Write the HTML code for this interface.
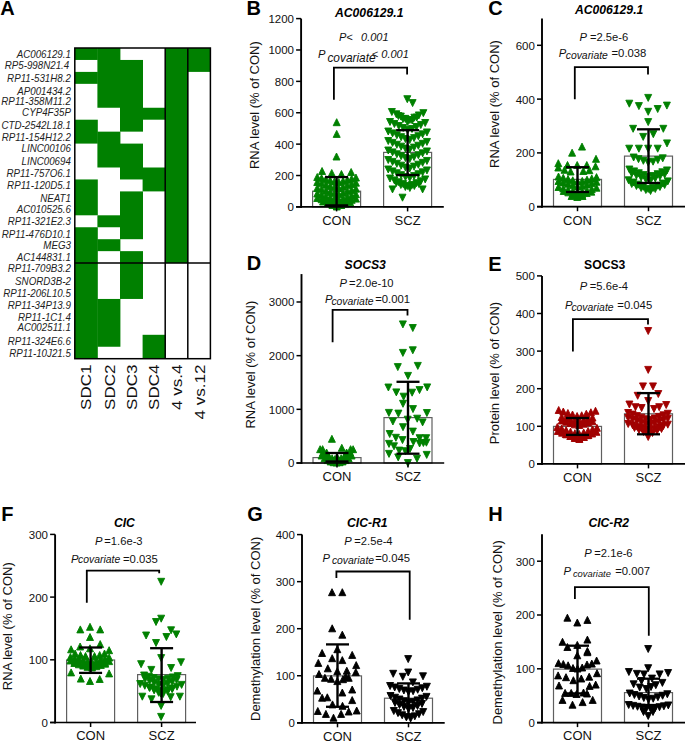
<!DOCTYPE html>
<html><head><meta charset="utf-8"><style>
html,body{margin:0;padding:0;background:#fff;}
svg{display:block;font-family:"Liberation Sans", sans-serif;}
</style></head><body>
<svg width="685" height="741" viewBox="0 0 685 741">
<rect x="74.80" y="48.00" width="23.00" height="11.95" fill="#008000"/>
<rect x="74.80" y="71.90" width="23.00" height="11.95" fill="#008000"/>
<rect x="74.80" y="119.70" width="23.00" height="23.90" fill="#008000"/>
<rect x="74.80" y="179.45" width="23.00" height="35.85" fill="#008000"/>
<rect x="74.80" y="227.25" width="23.00" height="131.45" fill="#008000"/>
<rect x="97.40" y="48.00" width="23.00" height="59.75" fill="#008000"/>
<rect x="97.40" y="131.65" width="23.00" height="35.85" fill="#008000"/>
<rect x="97.40" y="215.30" width="23.00" height="11.95" fill="#008000"/>
<rect x="97.40" y="239.20" width="23.00" height="11.95" fill="#008000"/>
<rect x="97.40" y="298.95" width="23.00" height="47.80" fill="#008000"/>
<rect x="120.00" y="59.95" width="23.00" height="71.70" fill="#008000"/>
<rect x="120.00" y="143.60" width="23.00" height="35.85" fill="#008000"/>
<rect x="120.00" y="191.40" width="23.00" height="47.80" fill="#008000"/>
<rect x="120.00" y="251.15" width="23.00" height="47.80" fill="#008000"/>
<rect x="142.60" y="107.75" width="23.00" height="11.95" fill="#008000"/>
<rect x="142.60" y="167.50" width="23.00" height="23.90" fill="#008000"/>
<rect x="142.60" y="334.80" width="23.00" height="23.90" fill="#008000"/>
<rect x="165.20" y="48.00" width="23.00" height="215.10" fill="#008000"/>
<rect x="187.80" y="48.00" width="23.00" height="23.90" fill="#008000"/>
<rect x="74.80" y="48.00" width="135.60" height="310.70" fill="none" stroke="#000" stroke-width="1.5"/>
<line x1="165.20" y1="48.0" x2="165.20" y2="358.70" stroke="#000" stroke-width="1.5"/>
<line x1="187.80" y1="48.0" x2="187.80" y2="358.70" stroke="#000" stroke-width="1.5"/>
<line x1="74.8" y1="263.10" x2="210.4" y2="263.10" stroke="#000" stroke-width="1.5"/>
<text transform="translate(70.9,57.8) scale(0.93,1)" text-anchor="end" font-size="10.5" font-style="italic" fill="#222">AC006129.1</text>
<text transform="translate(69.2,69.2) scale(0.93,1)" text-anchor="end" font-size="10.5" font-style="italic" fill="#222">RP5-998N21.4</text>
<text transform="translate(70.9,81.5) scale(0.93,1)" text-anchor="end" font-size="10.5" font-style="italic" fill="#222">RP11-531H8.2</text>
<text transform="translate(70.9,94.7) scale(0.93,1)" text-anchor="end" font-size="10.5" font-style="italic" fill="#222">AP001434.2</text>
<text transform="translate(70.9,104.8) scale(0.93,1)" text-anchor="end" font-size="10.5" font-style="italic" fill="#222">RP11-358M11.2</text>
<text transform="translate(70.9,116.0) scale(0.93,1)" text-anchor="end" font-size="10.5" font-style="italic" fill="#222">CYP4F35P</text>
<text transform="translate(70.9,128.7) scale(0.93,1)" text-anchor="end" font-size="10.5" font-style="italic" fill="#222">CTD-2542L18.1</text>
<text transform="translate(70.9,141.3) scale(0.93,1)" text-anchor="end" font-size="10.5" font-style="italic" fill="#222">RP11-154H12.2</text>
<text transform="translate(70.9,152.3) scale(0.93,1)" text-anchor="end" font-size="10.5" font-style="italic" fill="#222">LINC00106</text>
<text transform="translate(70.9,164.7) scale(0.93,1)" text-anchor="end" font-size="10.5" font-style="italic" fill="#222">LINC00694</text>
<text transform="translate(70.9,177.2) scale(0.93,1)" text-anchor="end" font-size="10.5" font-style="italic" fill="#222">RP11-757O6.1</text>
<text transform="translate(70.9,189.3) scale(0.93,1)" text-anchor="end" font-size="10.5" font-style="italic" fill="#222">RP11-120D5.1</text>
<text transform="translate(70.9,201.6) scale(0.93,1)" text-anchor="end" font-size="10.5" font-style="italic" fill="#222">NEAT1</text>
<text transform="translate(70.9,212.5) scale(0.93,1)" text-anchor="end" font-size="10.5" font-style="italic" fill="#222">AC010525.6</text>
<text transform="translate(70.9,225.3) scale(0.93,1)" text-anchor="end" font-size="10.5" font-style="italic" fill="#222">RP11-321E2.3</text>
<text transform="translate(70.9,238.0) scale(0.93,1)" text-anchor="end" font-size="10.5" font-style="italic" fill="#222">RP11-476D10.1</text>
<text transform="translate(70.9,248.9) scale(0.93,1)" text-anchor="end" font-size="10.5" font-style="italic" fill="#222">MEG3</text>
<text transform="translate(70.9,260.7) scale(0.93,1)" text-anchor="end" font-size="10.5" font-style="italic" fill="#222">AC144831.1</text>
<text transform="translate(70.9,272.2) scale(0.93,1)" text-anchor="end" font-size="10.5" font-style="italic" fill="#222">RP11-709B3.2</text>
<text transform="translate(70.9,284.5) scale(0.93,1)" text-anchor="end" font-size="10.5" font-style="italic" fill="#222">SNORD3B-2</text>
<text transform="translate(70.9,296.7) scale(0.93,1)" text-anchor="end" font-size="10.5" font-style="italic" fill="#222">RP11-206L10.5</text>
<text transform="translate(70.9,309.0) scale(0.93,1)" text-anchor="end" font-size="10.5" font-style="italic" fill="#222">RP11-34P13.9</text>
<text transform="translate(70.9,321.0) scale(0.93,1)" text-anchor="end" font-size="10.5" font-style="italic" fill="#222">RP11-1C1.4</text>
<text transform="translate(70.9,331.0) scale(0.93,1)" text-anchor="end" font-size="10.5" font-style="italic" fill="#222">AC002511.1</text>
<text transform="translate(70.9,344.7) scale(0.93,1)" text-anchor="end" font-size="10.5" font-style="italic" fill="#222">RP11-324E6.6</text>
<text transform="translate(70.9,357.3) scale(0.93,1)" text-anchor="end" font-size="10.5" font-style="italic" fill="#222">RP11-10J21.5</text>
<text transform="translate(90.60,364.6) rotate(-90) scale(1.19,1)" text-anchor="end" font-size="14.3" fill="#111">SDC1</text>
<text transform="translate(115.30,364.6) rotate(-90) scale(1.19,1)" text-anchor="end" font-size="14.3" fill="#111">SDC2</text>
<text transform="translate(137.10,364.6) rotate(-90) scale(1.19,1)" text-anchor="end" font-size="14.3" fill="#111">SDC3</text>
<text transform="translate(159.40,364.6) rotate(-90) scale(1.19,1)" text-anchor="end" font-size="14.3" fill="#111">SDC4</text>
<text transform="translate(181.70,364.6) rotate(-90) scale(1.19,1)" text-anchor="end" font-size="14.3" fill="#111">4 vs.4</text>
<text transform="translate(204.70,364.6) rotate(-90) scale(1.19,1)" text-anchor="end" font-size="14.3" fill="#111">4 vs.12</text>
<text x="0.3" y="14.7" font-size="20" font-weight="bold">A</text>
<rect x="312.60" y="191.20" width="48" height="15.70" fill="#fff" stroke="#606060" stroke-width="1.2"/>
<rect x="383.60" y="152.40" width="48" height="54.50" fill="#fff" stroke="#606060" stroke-width="1.2"/>
<g fill="#008000" stroke="#008000" stroke-width="0.9" stroke-linejoin="round">
<polygon points="336.70,118.70 340.20,125.70 333.20,125.70"/>
<polygon points="336.70,130.40 340.20,137.40 333.20,137.40"/>
<polygon points="336.50,153.00 340.00,160.00 333.00,160.00"/>
<polygon points="341.45,170.50 344.95,177.50 337.95,177.50"/>
<polygon points="331.75,169.50 335.25,176.50 328.25,176.50"/>
<polygon points="351.15,168.50 354.65,175.50 347.65,175.50"/>
<polygon points="322.05,167.50 325.55,174.50 318.55,174.50"/>
<polygon points="338.75,178.50 342.25,185.50 335.25,185.50"/>
<polygon points="334.45,177.94 337.95,184.94 330.95,184.94"/>
<polygon points="343.05,177.39 346.55,184.39 339.55,184.39"/>
<polygon points="330.15,176.83 333.65,183.83 326.65,183.83"/>
<polygon points="347.35,176.28 350.85,183.28 343.85,183.28"/>
<polygon points="325.85,175.72 329.35,182.72 322.35,182.72"/>
<polygon points="351.65,175.17 355.15,182.17 348.15,182.17"/>
<polygon points="321.55,174.61 325.05,181.61 318.05,181.61"/>
<polygon points="355.95,174.06 359.45,181.06 352.45,181.06"/>
<polygon points="317.25,173.50 320.75,180.50 313.75,180.50"/>
<polygon points="338.75,184.50 342.25,191.50 335.25,191.50"/>
<polygon points="334.45,183.83 337.95,190.83 330.95,190.83"/>
<polygon points="343.05,183.17 346.55,190.17 339.55,190.17"/>
<polygon points="330.15,182.50 333.65,189.50 326.65,189.50"/>
<polygon points="347.35,181.83 350.85,188.83 343.85,188.83"/>
<polygon points="325.85,181.17 329.35,188.17 322.35,188.17"/>
<polygon points="351.65,180.50 355.15,187.50 348.15,187.50"/>
<polygon points="321.55,179.83 325.05,186.83 318.05,186.83"/>
<polygon points="355.95,179.17 359.45,186.17 352.45,186.17"/>
<polygon points="317.25,178.50 320.75,185.50 313.75,185.50"/>
<polygon points="338.75,190.50 342.25,197.50 335.25,197.50"/>
<polygon points="334.45,189.83 337.95,196.83 330.95,196.83"/>
<polygon points="343.05,189.17 346.55,196.17 339.55,196.17"/>
<polygon points="330.15,188.50 333.65,195.50 326.65,195.50"/>
<polygon points="347.35,187.83 350.85,194.83 343.85,194.83"/>
<polygon points="325.85,187.17 329.35,194.17 322.35,194.17"/>
<polygon points="351.65,186.50 355.15,193.50 348.15,193.50"/>
<polygon points="321.55,185.83 325.05,192.83 318.05,192.83"/>
<polygon points="355.95,185.17 359.45,192.17 352.45,192.17"/>
<polygon points="317.25,184.50 320.75,191.50 313.75,191.50"/>
<polygon points="338.75,196.00 342.25,203.00 335.25,203.00"/>
<polygon points="334.45,195.33 337.95,202.33 330.95,202.33"/>
<polygon points="343.05,194.67 346.55,201.67 339.55,201.67"/>
<polygon points="330.15,194.00 333.65,201.00 326.65,201.00"/>
<polygon points="347.35,193.33 350.85,200.33 343.85,200.33"/>
<polygon points="325.85,192.67 329.35,199.67 322.35,199.67"/>
<polygon points="351.65,192.00 355.15,199.00 348.15,199.00"/>
<polygon points="321.55,191.33 325.05,198.33 318.05,198.33"/>
<polygon points="355.95,190.67 359.45,197.67 352.45,197.67"/>
<polygon points="317.25,190.00 320.75,197.00 313.75,197.00"/>
<polygon points="338.75,200.00 342.25,207.00 335.25,207.00"/>
<polygon points="334.45,199.39 337.95,206.39 330.95,206.39"/>
<polygon points="343.05,198.78 346.55,205.78 339.55,205.78"/>
<polygon points="330.15,198.17 333.65,205.17 326.65,205.17"/>
<polygon points="347.35,197.56 350.85,204.56 343.85,204.56"/>
<polygon points="325.85,196.94 329.35,203.94 322.35,203.94"/>
<polygon points="351.65,196.33 355.15,203.33 348.15,203.33"/>
<polygon points="321.55,195.72 325.05,202.72 318.05,202.72"/>
<polygon points="355.95,195.11 359.45,202.11 352.45,202.11"/>
<polygon points="317.25,194.50 320.75,201.50 313.75,201.50"/>
<polygon points="336.60,202.00 340.10,209.00 333.10,209.00"/>
<polygon points="341.10,201.33 344.60,208.33 337.60,208.33"/>
<polygon points="332.10,200.67 335.60,207.67 328.60,207.67"/>
<polygon points="345.60,200.00 349.10,207.00 342.10,207.00"/>
<polygon points="327.60,199.33 331.10,206.33 324.10,206.33"/>
<polygon points="350.10,198.67 353.60,205.67 346.60,205.67"/>
<polygon points="323.10,198.00 326.60,205.00 319.60,205.00"/>
<polygon points="336.80,203.00 340.30,210.00 333.30,210.00"/>
<polygon points="332.50,201.50 336.00,208.50 329.00,208.50"/>
<polygon points="341.00,201.50 344.50,208.50 337.50,208.50"/>
<polygon points="403.80,95.70 410.80,95.70 407.30,102.70"/>
<polygon points="409.10,99.60 416.10,99.60 412.60,106.60"/>
<polygon points="406.35,116.50 413.35,116.50 409.85,123.50"/>
<polygon points="401.85,115.36 408.85,115.36 405.35,122.36"/>
<polygon points="410.85,114.21 417.85,114.21 414.35,121.21"/>
<polygon points="397.35,113.07 404.35,113.07 400.85,120.07"/>
<polygon points="415.35,111.93 422.35,111.93 418.85,118.93"/>
<polygon points="392.85,110.79 399.85,110.79 396.35,117.79"/>
<polygon points="419.85,109.64 426.85,109.64 423.35,116.64"/>
<polygon points="388.35,108.50 395.35,108.50 391.85,115.50"/>
<polygon points="404.10,118.50 411.10,118.50 407.60,125.50"/>
<polygon points="408.70,117.00 415.70,117.00 412.20,124.00"/>
<polygon points="399.50,115.50 406.50,115.50 403.00,122.50"/>
<polygon points="413.30,114.00 420.30,114.00 416.80,121.00"/>
<polygon points="394.90,112.50 401.90,112.50 398.40,119.50"/>
<polygon points="404.10,126.50 411.10,126.50 407.60,133.50"/>
<polygon points="408.50,125.50 415.50,125.50 412.00,132.50"/>
<polygon points="399.70,124.50 406.70,124.50 403.20,131.50"/>
<polygon points="412.90,123.50 419.90,123.50 416.40,130.50"/>
<polygon points="395.30,122.50 402.30,122.50 398.80,129.50"/>
<polygon points="417.30,121.50 424.30,121.50 420.80,128.50"/>
<polygon points="390.90,120.50 397.90,120.50 394.40,127.50"/>
<polygon points="421.70,119.50 428.70,119.50 425.20,126.50"/>
<polygon points="386.50,118.50 393.50,118.50 390.00,125.50"/>
<polygon points="406.25,136.50 413.25,136.50 409.75,143.50"/>
<polygon points="401.95,135.56 408.95,135.56 405.45,142.56"/>
<polygon points="410.55,134.61 417.55,134.61 414.05,141.61"/>
<polygon points="397.65,133.67 404.65,133.67 401.15,140.67"/>
<polygon points="414.85,132.72 421.85,132.72 418.35,139.72"/>
<polygon points="393.35,131.78 400.35,131.78 396.85,138.78"/>
<polygon points="419.15,130.83 426.15,130.83 422.65,137.83"/>
<polygon points="389.05,129.89 396.05,129.89 392.55,136.89"/>
<polygon points="423.45,128.94 430.45,128.94 426.95,135.94"/>
<polygon points="384.75,128.00 391.75,128.00 388.25,135.00"/>
<polygon points="406.25,146.00 413.25,146.00 409.75,153.00"/>
<polygon points="401.95,145.06 408.95,145.06 405.45,152.06"/>
<polygon points="410.55,144.11 417.55,144.11 414.05,151.11"/>
<polygon points="397.65,143.17 404.65,143.17 401.15,150.17"/>
<polygon points="414.85,142.22 421.85,142.22 418.35,149.22"/>
<polygon points="393.35,141.28 400.35,141.28 396.85,148.28"/>
<polygon points="419.15,140.33 426.15,140.33 422.65,147.33"/>
<polygon points="389.05,139.39 396.05,139.39 392.55,146.39"/>
<polygon points="423.45,138.44 430.45,138.44 426.95,145.44"/>
<polygon points="384.75,137.50 391.75,137.50 388.25,144.50"/>
<polygon points="406.25,155.50 413.25,155.50 409.75,162.50"/>
<polygon points="401.95,154.56 408.95,154.56 405.45,161.56"/>
<polygon points="410.55,153.61 417.55,153.61 414.05,160.61"/>
<polygon points="397.65,152.67 404.65,152.67 401.15,159.67"/>
<polygon points="414.85,151.72 421.85,151.72 418.35,158.72"/>
<polygon points="393.35,150.78 400.35,150.78 396.85,157.78"/>
<polygon points="419.15,149.83 426.15,149.83 422.65,156.83"/>
<polygon points="389.05,148.89 396.05,148.89 392.55,155.89"/>
<polygon points="423.45,147.94 430.45,147.94 426.95,154.94"/>
<polygon points="384.75,147.00 391.75,147.00 388.25,154.00"/>
<polygon points="406.25,165.00 413.25,165.00 409.75,172.00"/>
<polygon points="401.95,164.06 408.95,164.06 405.45,171.06"/>
<polygon points="410.55,163.11 417.55,163.11 414.05,170.11"/>
<polygon points="397.65,162.17 404.65,162.17 401.15,169.17"/>
<polygon points="414.85,161.22 421.85,161.22 418.35,168.22"/>
<polygon points="393.35,160.28 400.35,160.28 396.85,167.28"/>
<polygon points="419.15,159.33 426.15,159.33 422.65,166.33"/>
<polygon points="389.05,158.39 396.05,158.39 392.55,165.39"/>
<polygon points="423.45,157.44 430.45,157.44 426.95,164.44"/>
<polygon points="384.75,156.50 391.75,156.50 388.25,163.50"/>
<polygon points="406.25,174.50 413.25,174.50 409.75,181.50"/>
<polygon points="401.95,173.56 408.95,173.56 405.45,180.56"/>
<polygon points="410.55,172.61 417.55,172.61 414.05,179.61"/>
<polygon points="397.65,171.67 404.65,171.67 401.15,178.67"/>
<polygon points="414.85,170.72 421.85,170.72 418.35,177.72"/>
<polygon points="393.35,169.78 400.35,169.78 396.85,176.78"/>
<polygon points="419.15,168.83 426.15,168.83 422.65,175.83"/>
<polygon points="389.05,167.89 396.05,167.89 392.55,174.89"/>
<polygon points="423.45,166.94 430.45,166.94 426.95,173.94"/>
<polygon points="384.75,166.00 391.75,166.00 388.25,173.00"/>
<polygon points="404.10,182.50 411.10,182.50 407.60,189.50"/>
<polygon points="408.50,181.56 415.50,181.56 412.00,188.56"/>
<polygon points="399.70,180.62 406.70,180.62 403.20,187.62"/>
<polygon points="412.90,179.69 419.90,179.69 416.40,186.69"/>
<polygon points="395.30,178.75 402.30,178.75 398.80,185.75"/>
<polygon points="417.30,177.81 424.30,177.81 420.80,184.81"/>
<polygon points="390.90,176.88 397.90,176.88 394.40,183.88"/>
<polygon points="421.70,175.94 428.70,175.94 425.20,182.94"/>
<polygon points="386.50,175.00 393.50,175.00 390.00,182.00"/>
<polygon points="406.35,184.50 413.35,184.50 409.85,191.50"/>
<polygon points="401.85,183.50 408.85,183.50 405.35,190.50"/>
<polygon points="410.85,182.50 417.85,182.50 414.35,189.50"/>
<polygon points="397.35,181.50 404.35,181.50 400.85,188.50"/>
<polygon points="415.35,180.50 422.35,180.50 418.85,187.50"/>
<polygon points="392.85,179.50 399.85,179.50 396.35,186.50"/>
<polygon points="399.00,194.20 406.00,194.20 402.50,201.20"/>
<polygon points="389.00,185.90 396.00,185.90 392.50,192.90"/>
<polygon points="419.10,185.90 426.10,185.90 422.60,192.90"/>
</g>
<line x1="336.60" y1="205.40" x2="336.60" y2="177.10" stroke="#000" stroke-width="2.4"/>
<line x1="325.10" y1="205.40" x2="348.10" y2="205.40" stroke="#000" stroke-width="2.3"/>
<line x1="325.10" y1="177.10" x2="348.10" y2="177.10" stroke="#000" stroke-width="2.3"/>
<line x1="407.60" y1="175.00" x2="407.60" y2="130.20" stroke="#000" stroke-width="2.4"/>
<line x1="396.10" y1="175.00" x2="419.10" y2="175.00" stroke="#000" stroke-width="2.3"/>
<line x1="396.10" y1="130.20" x2="419.10" y2="130.20" stroke="#000" stroke-width="2.3"/>
<line x1="301.10" y1="18.60" x2="301.10" y2="207.90" stroke="#000" stroke-width="1.9"/>
<line x1="296.10" y1="206.90" x2="443.80" y2="206.90" stroke="#000" stroke-width="1.7"/>
<line x1="296.10" y1="206.90" x2="301.10" y2="206.90" stroke="#000" stroke-width="1.5"/>
<text x="294.00" y="211.30" text-anchor="end" font-size="11.5" fill="#111">0</text>
<line x1="296.10" y1="175.52" x2="301.10" y2="175.52" stroke="#000" stroke-width="1.5"/>
<text x="294.00" y="179.92" text-anchor="end" font-size="11.5" fill="#111">200</text>
<line x1="296.10" y1="144.13" x2="301.10" y2="144.13" stroke="#000" stroke-width="1.5"/>
<text x="294.00" y="148.53" text-anchor="end" font-size="11.5" fill="#111">400</text>
<line x1="296.10" y1="112.75" x2="301.10" y2="112.75" stroke="#000" stroke-width="1.5"/>
<text x="294.00" y="117.15" text-anchor="end" font-size="11.5" fill="#111">600</text>
<line x1="296.10" y1="81.37" x2="301.10" y2="81.37" stroke="#000" stroke-width="1.5"/>
<text x="294.00" y="85.77" text-anchor="end" font-size="11.5" fill="#111">800</text>
<line x1="296.10" y1="49.98" x2="301.10" y2="49.98" stroke="#000" stroke-width="1.5"/>
<text x="294.00" y="54.38" text-anchor="end" font-size="11.5" fill="#111">1000</text>
<line x1="296.10" y1="18.60" x2="301.10" y2="18.60" stroke="#000" stroke-width="1.5"/>
<text x="294.00" y="23.00" text-anchor="end" font-size="11.5" fill="#111">1200</text>
<line x1="336.60" y1="206.90" x2="336.60" y2="211.40" stroke="#000" stroke-width="1.5"/>
<line x1="407.60" y1="206.90" x2="407.60" y2="211.40" stroke="#000" stroke-width="1.5"/>
<text x="336.60" y="224.70" text-anchor="middle" font-size="13" fill="#111">CON</text>
<text x="407.60" y="224.70" text-anchor="middle" font-size="13" fill="#111">SCZ</text>
<text transform="translate(258.70,105.10) rotate(-90)" text-anchor="middle" font-size="13" fill="#111">RNA level (% of CON)</text>
<text x="369.20" y="16.60" text-anchor="middle" font-size="12.2" font-weight="bold" font-style="italic">AC006129.1</text>
<text x="246.60" y="14.70" font-size="20" font-weight="bold">B</text>
<polyline points="333.90,99.70 333.90,67.60 407.10,67.60 407.10,74.50" fill="none" stroke="#000" stroke-width="1.8"/>
<text x="339.00" y="40.90" font-size="11" text-anchor="start" font-style="italic" fill="#111">P&lt;</text>
<text x="388.60" y="40.90" font-size="11" text-anchor="end" font-style="italic" fill="#111">0.001</text>
<text x="318.00" y="57.70" font-size="11.2" text-anchor="start" font-style="italic" fill="#111">P</text>
<text x="327.40" y="62.20" font-size="11.9" text-anchor="start" font-style="italic" fill="#111">covariate</text>
<text x="408.80" y="57.70" font-size="11" text-anchor="end" font-style="italic" fill="#111">&lt; 0.001</text>
<rect x="553.50" y="179.40" width="48" height="27.30" fill="#fff" stroke="#606060" stroke-width="1.2"/>
<rect x="624.50" y="156.10" width="48" height="50.60" fill="#fff" stroke="#606060" stroke-width="1.2"/>
<g fill="#008000" stroke="#008000" stroke-width="0.9" stroke-linejoin="round">
<polygon points="582.00,143.10 585.50,150.10 578.50,150.10"/>
<polygon points="572.10,149.20 575.60,156.20 568.60,156.20"/>
<polygon points="596.00,155.30 599.50,162.30 592.50,162.30"/>
<polygon points="558.30,159.70 561.80,166.70 554.80,166.70"/>
<polygon points="567.50,161.50 571.00,168.50 564.00,168.50"/>
<polygon points="577.20,161.50 580.70,168.50 573.70,168.50"/>
<polygon points="586.80,161.50 590.30,168.50 583.30,168.50"/>
<polygon points="595.50,162.80 599.00,169.80 592.00,169.80"/>
<polygon points="558.30,164.00 561.80,171.00 554.80,171.00"/>
<polygon points="564.50,166.30 568.00,173.30 561.00,173.30"/>
<polygon points="570.60,168.00 574.10,175.00 567.10,175.00"/>
<polygon points="583.30,167.50 586.80,174.50 579.80,174.50"/>
<polygon points="589.40,166.70 592.90,173.70 585.90,173.70"/>
<polygon points="577.50,178.00 581.00,185.00 574.00,185.00"/>
<polygon points="582.25,177.38 585.75,184.38 578.75,184.38"/>
<polygon points="572.75,176.75 576.25,183.75 569.25,183.75"/>
<polygon points="587.00,176.12 590.50,183.12 583.50,183.12"/>
<polygon points="568.00,175.50 571.50,182.50 564.50,182.50"/>
<polygon points="591.75,174.88 595.25,181.88 588.25,181.88"/>
<polygon points="563.25,174.25 566.75,181.25 559.75,181.25"/>
<polygon points="596.50,173.62 600.00,180.62 593.00,180.62"/>
<polygon points="558.50,173.00 562.00,180.00 555.00,180.00"/>
<polygon points="577.50,183.00 581.00,190.00 574.00,190.00"/>
<polygon points="582.25,182.31 585.75,189.31 578.75,189.31"/>
<polygon points="572.75,181.62 576.25,188.62 569.25,188.62"/>
<polygon points="587.00,180.94 590.50,187.94 583.50,187.94"/>
<polygon points="568.00,180.25 571.50,187.25 564.50,187.25"/>
<polygon points="591.75,179.56 595.25,186.56 588.25,186.56"/>
<polygon points="563.25,178.88 566.75,185.88 559.75,185.88"/>
<polygon points="596.50,178.19 600.00,185.19 593.00,185.19"/>
<polygon points="558.50,177.50 562.00,184.50 555.00,184.50"/>
<polygon points="577.50,189.00 581.00,196.00 574.00,196.00"/>
<polygon points="582.25,188.31 585.75,195.31 578.75,195.31"/>
<polygon points="572.75,187.62 576.25,194.62 569.25,194.62"/>
<polygon points="587.00,186.94 590.50,193.94 583.50,193.94"/>
<polygon points="568.00,186.25 571.50,193.25 564.50,193.25"/>
<polygon points="591.75,185.56 595.25,192.56 588.25,192.56"/>
<polygon points="563.25,184.88 566.75,191.88 559.75,191.88"/>
<polygon points="596.50,184.19 600.00,191.19 593.00,191.19"/>
<polygon points="558.50,183.50 562.00,190.50 555.00,190.50"/>
<polygon points="577.50,191.50 581.00,198.50 574.00,198.50"/>
<polygon points="582.10,190.83 585.60,197.83 578.60,197.83"/>
<polygon points="572.90,190.17 576.40,197.17 569.40,197.17"/>
<polygon points="586.70,189.50 590.20,196.50 583.20,196.50"/>
<polygon points="568.30,188.83 571.80,195.83 564.80,195.83"/>
<polygon points="591.30,188.17 594.80,195.17 587.80,195.17"/>
<polygon points="563.70,187.50 567.20,194.50 560.20,194.50"/>
<polygon points="571.60,192.50 575.10,199.50 568.10,199.50"/>
<polygon points="577.30,193.50 580.80,200.50 573.80,200.50"/>
<polygon points="582.50,192.50 586.00,199.50 579.00,199.50"/>
<polygon points="644.70,94.40 651.70,94.40 648.20,101.40"/>
<polygon points="625.80,100.20 632.80,100.20 629.30,107.20"/>
<polygon points="635.40,102.60 642.40,102.60 638.90,109.60"/>
<polygon points="663.40,102.10 670.40,102.10 666.90,109.10"/>
<polygon points="654.20,105.50 661.20,105.50 657.70,112.50"/>
<polygon points="644.70,108.30 651.70,108.30 648.20,115.30"/>
<polygon points="644.70,118.60 651.70,118.60 648.20,125.60"/>
<polygon points="629.60,125.30 636.60,125.30 633.10,132.30"/>
<polygon points="659.80,125.30 666.80,125.30 663.30,132.30"/>
<polygon points="639.70,133.40 646.70,133.40 643.20,140.40"/>
<polygon points="649.80,130.70 656.80,130.70 653.30,137.70"/>
<polygon points="663.50,139.90 670.50,139.90 667.00,146.90"/>
<polygon points="625.70,145.20 632.70,145.20 629.20,152.20"/>
<polygon points="635.40,145.20 642.40,145.20 638.90,152.20"/>
<polygon points="644.70,145.20 651.70,145.20 648.20,152.20"/>
<polygon points="654.20,145.20 661.20,145.20 657.70,152.20"/>
<polygon points="644.70,159.00 651.70,159.00 648.20,166.00"/>
<polygon points="649.55,158.17 656.55,158.17 653.05,165.17"/>
<polygon points="639.85,157.33 646.85,157.33 643.35,164.33"/>
<polygon points="654.40,156.50 661.40,156.50 657.90,163.50"/>
<polygon points="635.00,155.67 642.00,155.67 638.50,162.67"/>
<polygon points="659.25,154.83 666.25,154.83 662.75,161.83"/>
<polygon points="630.15,154.00 637.15,154.00 633.65,161.00"/>
<polygon points="644.70,173.50 651.70,173.50 648.20,180.50"/>
<polygon points="649.40,172.56 656.40,172.56 652.90,179.56"/>
<polygon points="640.00,171.62 647.00,171.62 643.50,178.62"/>
<polygon points="654.10,170.69 661.10,170.69 657.60,177.69"/>
<polygon points="635.30,169.75 642.30,169.75 638.80,176.75"/>
<polygon points="658.80,168.81 665.80,168.81 662.30,175.81"/>
<polygon points="630.60,167.88 637.60,167.88 634.10,174.88"/>
<polygon points="663.50,166.94 670.50,166.94 667.00,173.94"/>
<polygon points="625.90,166.00 632.90,166.00 629.40,173.00"/>
<polygon points="647.05,177.00 654.05,177.00 650.55,184.00"/>
<polygon points="642.35,176.00 649.35,176.00 645.85,183.00"/>
<polygon points="651.75,175.00 658.75,175.00 655.25,182.00"/>
<polygon points="637.65,174.00 644.65,174.00 641.15,181.00"/>
<polygon points="656.45,173.00 663.45,173.00 659.95,180.00"/>
<polygon points="632.95,172.00 639.95,172.00 636.45,179.00"/>
<polygon points="661.15,171.00 668.15,171.00 664.65,178.00"/>
<polygon points="628.25,170.00 635.25,170.00 631.75,177.00"/>
<polygon points="644.70,185.50 651.70,185.50 648.20,192.50"/>
<polygon points="649.60,184.41 656.60,184.41 653.10,191.41"/>
<polygon points="639.80,183.32 646.80,183.32 643.30,190.32"/>
<polygon points="654.50,182.24 661.50,182.24 658.00,189.24"/>
<polygon points="634.90,181.15 641.90,181.15 638.40,188.15"/>
<polygon points="659.40,180.06 666.40,180.06 662.90,187.06"/>
<polygon points="630.00,178.98 637.00,178.98 633.50,185.98"/>
<polygon points="664.30,177.89 671.30,177.89 667.80,184.89"/>
<polygon points="625.10,176.80 632.10,176.80 628.60,183.80"/>
<polygon points="647.05,187.50 654.05,187.50 650.55,194.50"/>
<polygon points="642.35,186.50 649.35,186.50 645.85,193.50"/>
<polygon points="651.75,185.50 658.75,185.50 655.25,192.50"/>
<polygon points="637.65,184.50 644.65,184.50 641.15,191.50"/>
<polygon points="656.45,183.50 663.45,183.50 659.95,190.50"/>
<polygon points="632.95,182.50 639.95,182.50 636.45,189.50"/>
<polygon points="661.15,181.50 668.15,181.50 664.65,188.50"/>
<polygon points="628.25,180.50 635.25,180.50 631.75,187.50"/>
</g>
<line x1="577.50" y1="192.00" x2="577.50" y2="167.20" stroke="#000" stroke-width="2.4"/>
<line x1="566.00" y1="192.00" x2="589.00" y2="192.00" stroke="#000" stroke-width="2.3"/>
<line x1="566.00" y1="167.20" x2="589.00" y2="167.20" stroke="#000" stroke-width="2.3"/>
<line x1="648.50" y1="183.00" x2="648.50" y2="129.30" stroke="#000" stroke-width="2.4"/>
<line x1="637.00" y1="183.00" x2="660.00" y2="183.00" stroke="#000" stroke-width="2.3"/>
<line x1="637.00" y1="129.30" x2="660.00" y2="129.30" stroke="#000" stroke-width="2.3"/>
<line x1="542.00" y1="18.40" x2="542.00" y2="207.70" stroke="#000" stroke-width="1.9"/>
<line x1="537.00" y1="206.70" x2="686.00" y2="206.70" stroke="#000" stroke-width="1.7"/>
<line x1="537.00" y1="206.70" x2="542.00" y2="206.70" stroke="#000" stroke-width="1.5"/>
<text x="534.90" y="211.10" text-anchor="end" font-size="11.5" fill="#111">0</text>
<line x1="537.00" y1="152.90" x2="542.00" y2="152.90" stroke="#000" stroke-width="1.5"/>
<text x="534.90" y="157.30" text-anchor="end" font-size="11.5" fill="#111">200</text>
<line x1="537.00" y1="99.10" x2="542.00" y2="99.10" stroke="#000" stroke-width="1.5"/>
<text x="534.90" y="103.50" text-anchor="end" font-size="11.5" fill="#111">400</text>
<line x1="537.00" y1="45.30" x2="542.00" y2="45.30" stroke="#000" stroke-width="1.5"/>
<text x="534.90" y="49.70" text-anchor="end" font-size="11.5" fill="#111">600</text>
<line x1="577.50" y1="206.70" x2="577.50" y2="211.20" stroke="#000" stroke-width="1.5"/>
<line x1="648.50" y1="206.70" x2="648.50" y2="211.20" stroke="#000" stroke-width="1.5"/>
<text x="577.50" y="224.50" text-anchor="middle" font-size="13" fill="#111">CON</text>
<text x="648.50" y="224.50" text-anchor="middle" font-size="13" fill="#111">SCZ</text>
<text transform="translate(499.30,104.00) rotate(-90)" text-anchor="middle" font-size="13" fill="#111">RNA level (% of CON)</text>
<text x="609.10" y="14.40" text-anchor="middle" font-size="12.2" font-weight="bold" font-style="italic">AC006129.1</text>
<text x="488.30" y="14.50" font-size="20" font-weight="bold">C</text>
<polyline points="574.80,99.20 574.80,67.20 648.00,67.20 648.00,74.50" fill="none" stroke="#000" stroke-width="1.8"/>
<text x="579.50" y="40.80" font-size="11.2" text-anchor="start" font-style="italic" fill="#111">P</text>
<text x="628.20" y="40.80" font-size="11.2" text-anchor="end" fill="#111">=2.5e-6</text>
<text x="558.80" y="57.20" font-size="11.2" text-anchor="start" font-style="italic" fill="#111">P</text>
<text x="565.70" y="59.40" font-size="10.4" text-anchor="start" font-style="italic" fill="#111">covariate</text>
<text x="646.40" y="57.20" font-size="11.3" text-anchor="end" fill="#111">=0.038</text>
<rect x="313.00" y="457.60" width="48" height="5.40" fill="#fff" stroke="#606060" stroke-width="1.2"/>
<rect x="384.00" y="417.60" width="48" height="45.40" fill="#fff" stroke="#606060" stroke-width="1.2"/>
<g fill="#008000" stroke="#008000" stroke-width="0.9" stroke-linejoin="round">
<polygon points="331.90,435.30 335.40,442.30 328.40,442.30"/>
<polygon points="341.80,444.30 345.30,451.30 338.30,451.30"/>
<polygon points="320.10,445.70 323.60,452.70 316.60,452.70"/>
<polygon points="323.10,448.94 326.60,455.94 319.60,455.94"/>
<polygon points="326.10,451.53 329.60,458.53 322.60,458.53"/>
<polygon points="329.10,453.48 332.60,460.48 325.60,460.48"/>
<polygon points="332.10,454.77 335.60,461.77 328.60,461.77"/>
<polygon points="335.10,455.42 338.60,462.42 331.60,462.42"/>
<polygon points="338.10,455.42 341.60,462.42 334.60,462.42"/>
<polygon points="341.10,454.77 344.60,461.77 337.60,461.77"/>
<polygon points="344.10,453.48 347.60,460.48 340.60,460.48"/>
<polygon points="347.10,451.53 350.60,458.53 343.60,458.53"/>
<polygon points="350.10,448.94 353.60,455.94 346.60,455.94"/>
<polygon points="353.10,445.70 356.60,452.70 349.60,452.70"/>
<polygon points="324.60,454.68 328.10,461.68 321.10,461.68"/>
<polygon points="327.60,456.57 331.10,463.57 324.10,463.57"/>
<polygon points="330.60,457.92 334.10,464.92 327.10,464.92"/>
<polygon points="333.60,458.73 337.10,465.73 330.10,465.73"/>
<polygon points="336.60,459.00 340.10,466.00 333.10,466.00"/>
<polygon points="339.60,458.73 343.10,465.73 336.10,465.73"/>
<polygon points="342.60,457.92 346.10,464.92 339.10,464.92"/>
<polygon points="345.60,456.57 349.10,463.57 342.10,463.57"/>
<polygon points="348.60,454.68 352.10,461.68 345.10,461.68"/>
<polygon points="322.60,445.64 326.10,452.64 319.10,452.64"/>
<polygon points="326.60,449.00 330.10,456.00 323.10,456.00"/>
<polygon points="346.60,449.00 350.10,456.00 343.10,456.00"/>
<polygon points="350.60,445.64 354.10,452.64 347.10,452.64"/>
<polygon points="321.60,452.00 325.10,459.00 318.10,459.00"/>
<polygon points="351.60,452.00 355.10,459.00 348.10,459.00"/>
<polygon points="399.40,320.90 406.40,320.90 402.90,327.90"/>
<polygon points="409.30,324.50 416.30,324.50 412.80,331.50"/>
<polygon points="399.40,349.40 406.40,349.40 402.90,356.40"/>
<polygon points="409.30,346.80 416.30,346.80 412.80,353.80"/>
<polygon points="394.30,363.60 401.30,363.60 397.80,370.60"/>
<polygon points="414.30,362.40 421.30,362.40 417.80,369.40"/>
<polygon points="404.50,372.40 411.50,372.40 408.00,379.40"/>
<polygon points="384.90,384.00 391.90,384.00 388.40,391.00"/>
<polygon points="392.80,388.90 399.80,388.90 396.30,395.90"/>
<polygon points="400.10,393.20 407.10,393.20 403.60,400.20"/>
<polygon points="408.60,389.20 415.60,389.20 412.10,396.20"/>
<polygon points="416.00,386.60 423.00,386.60 419.50,393.60"/>
<polygon points="423.70,383.90 430.70,383.90 427.20,390.90"/>
<polygon points="399.50,400.30 406.50,400.30 403.00,407.30"/>
<polygon points="409.50,405.60 416.50,405.60 413.00,412.60"/>
<polygon points="385.40,409.40 392.40,409.40 388.90,416.40"/>
<polygon points="394.90,410.10 401.90,410.10 398.40,417.10"/>
<polygon points="423.40,409.50 430.40,409.50 426.90,416.50"/>
<polygon points="389.40,418.00 396.40,418.00 392.90,425.00"/>
<polygon points="404.20,416.20 411.20,416.20 407.70,423.20"/>
<polygon points="413.70,415.20 420.70,415.20 417.20,422.20"/>
<polygon points="419.10,418.90 426.10,418.90 422.60,425.90"/>
<polygon points="399.50,423.70 406.50,423.70 403.00,430.70"/>
<polygon points="409.40,428.10 416.40,428.10 412.90,435.10"/>
<polygon points="386.20,430.50 393.20,430.50 389.70,437.50"/>
<polygon points="392.40,434.30 399.40,434.30 395.90,441.30"/>
<polygon points="399.00,436.60 406.00,436.60 402.50,443.60"/>
<polygon points="416.10,434.70 423.10,434.70 419.60,441.70"/>
<polygon points="422.70,434.70 429.70,434.70 426.20,441.70"/>
<polygon points="409.90,438.50 416.90,438.50 413.40,445.50"/>
<polygon points="385.50,440.40 392.50,440.40 389.00,447.40"/>
<polygon points="390.50,442.80 397.50,442.80 394.00,449.80"/>
<polygon points="419.90,439.50 426.90,439.50 423.40,446.50"/>
<polygon points="422.90,439.20 429.90,439.20 426.40,446.20"/>
<polygon points="416.10,440.00 423.10,440.00 419.60,447.00"/>
<polygon points="395.70,447.10 402.70,447.10 399.20,454.10"/>
<polygon points="401.90,447.70 408.90,447.70 405.40,454.70"/>
<polygon points="406.50,445.50 413.50,445.50 410.00,452.50"/>
<polygon points="385.50,450.40 392.50,450.40 389.00,457.40"/>
<polygon points="394.70,453.90 401.70,453.90 398.20,460.90"/>
<polygon points="413.50,455.20 420.50,455.20 417.00,462.20"/>
<polygon points="423.20,451.40 430.20,451.40 426.70,458.40"/>
<polygon points="404.40,459.60 411.40,459.60 407.90,466.60"/>
</g>
<line x1="337.00" y1="461.50" x2="337.00" y2="453.00" stroke="#000" stroke-width="2.4"/>
<line x1="325.50" y1="461.50" x2="348.50" y2="461.50" stroke="#000" stroke-width="2.3"/>
<line x1="325.50" y1="453.00" x2="348.50" y2="453.00" stroke="#000" stroke-width="2.3"/>
<line x1="408.00" y1="453.70" x2="408.00" y2="381.80" stroke="#000" stroke-width="2.4"/>
<line x1="396.50" y1="453.70" x2="419.50" y2="453.70" stroke="#000" stroke-width="2.3"/>
<line x1="396.50" y1="381.80" x2="419.50" y2="381.80" stroke="#000" stroke-width="2.3"/>
<line x1="301.50" y1="274.08" x2="301.50" y2="464.00" stroke="#000" stroke-width="1.9"/>
<line x1="296.50" y1="463.00" x2="444.20" y2="463.00" stroke="#000" stroke-width="1.7"/>
<line x1="296.50" y1="463.00" x2="301.50" y2="463.00" stroke="#000" stroke-width="1.5"/>
<text x="294.40" y="467.40" text-anchor="end" font-size="11.5" fill="#111">0</text>
<line x1="296.50" y1="409.33" x2="301.50" y2="409.33" stroke="#000" stroke-width="1.5"/>
<text x="294.40" y="413.73" text-anchor="end" font-size="11.5" fill="#111">1000</text>
<line x1="296.50" y1="355.66" x2="301.50" y2="355.66" stroke="#000" stroke-width="1.5"/>
<text x="294.40" y="360.06" text-anchor="end" font-size="11.5" fill="#111">2000</text>
<line x1="296.50" y1="301.99" x2="301.50" y2="301.99" stroke="#000" stroke-width="1.5"/>
<text x="294.40" y="306.39" text-anchor="end" font-size="11.5" fill="#111">3000</text>
<line x1="337.00" y1="463.00" x2="337.00" y2="467.50" stroke="#000" stroke-width="1.5"/>
<line x1="408.00" y1="463.00" x2="408.00" y2="467.50" stroke="#000" stroke-width="1.5"/>
<text x="337.00" y="480.80" text-anchor="middle" font-size="13" fill="#111">CON</text>
<text x="408.00" y="480.80" text-anchor="middle" font-size="13" fill="#111">SCZ</text>
<text transform="translate(255.00,364.60) rotate(-90)" text-anchor="middle" font-size="13" fill="#111">RNA level (% of CON)</text>
<text x="365.20" y="268.70" text-anchor="middle" font-size="12.2" font-weight="bold" font-style="italic">SOCS3</text>
<text x="246.70" y="269.90" font-size="20" font-weight="bold">D</text>
<polyline points="332.60,342.20 332.60,309.80 407.50,309.80 407.50,315.50" fill="none" stroke="#000" stroke-width="1.8"/>
<text x="339.50" y="286.70" font-size="11.2" text-anchor="start" font-style="italic" fill="#111">P</text>
<text x="393.60" y="286.70" font-size="11.2" text-anchor="end" fill="#111">=2.0e-10</text>
<text x="324.90" y="302.70" font-size="11.2" text-anchor="start" font-style="italic" fill="#111">P</text>
<text x="331.40" y="304.90" font-size="10.4" text-anchor="start" font-style="italic" fill="#111">covariate</text>
<text x="410.00" y="302.70" font-size="11.3" text-anchor="end" fill="#111">=0.001</text>
<rect x="553.50" y="426.40" width="48" height="37.50" fill="#fff" stroke="#606060" stroke-width="1.2"/>
<rect x="624.50" y="413.80" width="48" height="50.10" fill="#fff" stroke="#606060" stroke-width="1.2"/>
<g fill="#a00000" stroke="#a00000" stroke-width="0.9" stroke-linejoin="round">
<polygon points="577.10,412.50 580.60,419.50 573.60,419.50"/>
<polygon points="581.70,411.75 585.20,418.75 578.20,418.75"/>
<polygon points="572.50,411.00 576.00,418.00 569.00,418.00"/>
<polygon points="586.30,410.25 589.80,417.25 582.80,417.25"/>
<polygon points="567.90,409.50 571.40,416.50 564.40,416.50"/>
<polygon points="590.90,408.75 594.40,415.75 587.40,415.75"/>
<polygon points="563.30,408.00 566.80,415.00 559.80,415.00"/>
<polygon points="595.50,407.25 599.00,414.25 592.00,414.25"/>
<polygon points="558.70,406.50 562.20,413.50 555.20,413.50"/>
<polygon points="579.30,417.50 582.80,424.50 575.80,424.50"/>
<polygon points="574.90,416.93 578.40,423.93 571.40,423.93"/>
<polygon points="583.70,416.36 587.20,423.36 580.20,423.36"/>
<polygon points="570.50,415.79 574.00,422.79 567.00,422.79"/>
<polygon points="588.10,415.21 591.60,422.21 584.60,422.21"/>
<polygon points="566.10,414.64 569.60,421.64 562.60,421.64"/>
<polygon points="592.50,414.07 596.00,421.07 589.00,421.07"/>
<polygon points="561.70,413.50 565.20,420.50 558.20,420.50"/>
<polygon points="579.30,421.50 582.80,428.50 575.80,428.50"/>
<polygon points="574.90,420.86 578.40,427.86 571.40,427.86"/>
<polygon points="583.70,420.21 587.20,427.21 580.20,427.21"/>
<polygon points="570.50,419.57 574.00,426.57 567.00,426.57"/>
<polygon points="588.10,418.93 591.60,425.93 584.60,425.93"/>
<polygon points="566.10,418.29 569.60,425.29 562.60,425.29"/>
<polygon points="592.50,417.64 596.00,424.64 589.00,424.64"/>
<polygon points="561.70,417.00 565.20,424.00 558.20,424.00"/>
<polygon points="579.30,430.50 582.80,437.50 575.80,437.50"/>
<polygon points="574.90,429.72 578.40,436.72 571.40,436.72"/>
<polygon points="583.70,428.94 587.20,435.94 580.20,435.94"/>
<polygon points="570.50,428.17 574.00,435.17 567.00,435.17"/>
<polygon points="588.10,427.39 591.60,434.39 584.60,434.39"/>
<polygon points="566.10,426.61 569.60,433.61 562.60,433.61"/>
<polygon points="592.50,425.83 596.00,432.83 589.00,432.83"/>
<polygon points="561.70,425.06 565.20,432.06 558.20,432.06"/>
<polygon points="596.90,424.28 600.40,431.28 593.40,431.28"/>
<polygon points="557.30,423.50 560.80,430.50 553.80,430.50"/>
<polygon points="579.25,435.00 582.75,442.00 575.75,442.00"/>
<polygon points="574.95,434.17 578.45,441.17 571.45,441.17"/>
<polygon points="583.55,433.33 587.05,440.33 580.05,440.33"/>
<polygon points="570.65,432.50 574.15,439.50 567.15,439.50"/>
<polygon points="587.85,431.67 591.35,438.67 584.35,438.67"/>
<polygon points="566.35,430.83 569.85,437.83 562.85,437.83"/>
<polygon points="592.15,430.00 595.65,437.00 588.65,437.00"/>
<polygon points="562.05,429.17 565.55,436.17 558.55,436.17"/>
<polygon points="596.45,428.33 599.95,435.33 592.95,435.33"/>
<polygon points="557.75,427.50 561.25,434.50 554.25,434.50"/>
<polygon points="579.35,435.50 582.85,442.50 575.85,442.50"/>
<polygon points="574.85,434.50 578.35,441.50 571.35,441.50"/>
<polygon points="583.85,433.50 587.35,440.50 580.35,440.50"/>
<polygon points="570.35,432.50 573.85,439.50 566.85,439.50"/>
<polygon points="588.35,431.50 591.85,438.50 584.85,438.50"/>
<polygon points="565.85,430.50 569.35,437.50 562.35,437.50"/>
<polygon points="644.70,327.50 651.70,327.50 648.20,334.50"/>
<polygon points="644.70,366.40 651.70,366.40 648.20,373.40"/>
<polygon points="639.50,382.90 646.50,382.90 643.00,389.90"/>
<polygon points="649.50,382.90 656.50,382.90 653.00,389.90"/>
<polygon points="634.20,392.30 641.20,392.30 637.70,399.30"/>
<polygon points="654.80,390.50 661.80,390.50 658.30,397.50"/>
<polygon points="644.70,397.50 651.70,397.50 648.20,404.50"/>
<polygon points="625.90,401.00 632.90,401.00 629.40,408.00"/>
<polygon points="632.00,403.70 639.00,403.70 635.50,410.70"/>
<polygon points="638.10,404.50 645.10,404.50 641.60,411.50"/>
<polygon points="655.70,403.70 662.70,403.70 659.20,410.70"/>
<polygon points="662.70,401.50 669.70,401.50 666.20,408.50"/>
<polygon points="650.50,405.50 657.50,405.50 654.00,412.50"/>
<polygon points="646.70,416.50 653.70,416.50 650.20,423.50"/>
<polygon points="642.30,415.72 649.30,415.72 645.80,422.72"/>
<polygon points="651.10,414.94 658.10,414.94 654.60,421.94"/>
<polygon points="637.90,414.17 644.90,414.17 641.40,421.17"/>
<polygon points="655.50,413.39 662.50,413.39 659.00,420.39"/>
<polygon points="633.50,412.61 640.50,412.61 637.00,419.61"/>
<polygon points="659.90,411.83 666.90,411.83 663.40,418.83"/>
<polygon points="629.10,411.06 636.10,411.06 632.60,418.06"/>
<polygon points="664.30,410.28 671.30,410.28 667.80,417.28"/>
<polygon points="624.70,409.50 631.70,409.50 628.20,416.50"/>
<polygon points="646.70,421.50 653.70,421.50 650.20,428.50"/>
<polygon points="642.30,420.72 649.30,420.72 645.80,427.72"/>
<polygon points="651.10,419.94 658.10,419.94 654.60,426.94"/>
<polygon points="637.90,419.17 644.90,419.17 641.40,426.17"/>
<polygon points="655.50,418.39 662.50,418.39 659.00,425.39"/>
<polygon points="633.50,417.61 640.50,417.61 637.00,424.61"/>
<polygon points="659.90,416.83 666.90,416.83 663.40,423.83"/>
<polygon points="629.10,416.06 636.10,416.06 632.60,423.06"/>
<polygon points="664.30,415.28 671.30,415.28 667.80,422.28"/>
<polygon points="624.70,414.50 631.70,414.50 628.20,421.50"/>
<polygon points="646.70,426.50 653.70,426.50 650.20,433.50"/>
<polygon points="642.30,425.83 649.30,425.83 645.80,432.83"/>
<polygon points="651.10,425.17 658.10,425.17 654.60,432.17"/>
<polygon points="637.90,424.50 644.90,424.50 641.40,431.50"/>
<polygon points="655.50,423.83 662.50,423.83 659.00,430.83"/>
<polygon points="633.50,423.17 640.50,423.17 637.00,430.17"/>
<polygon points="659.90,422.50 666.90,422.50 663.40,429.50"/>
<polygon points="629.10,421.83 636.10,421.83 632.60,428.83"/>
<polygon points="664.30,421.17 671.30,421.17 667.80,428.17"/>
<polygon points="624.70,420.50 631.70,420.50 628.20,427.50"/>
<polygon points="644.50,430.50 651.50,430.50 648.00,437.50"/>
<polygon points="649.00,429.50 656.00,429.50 652.50,436.50"/>
<polygon points="640.00,428.50 647.00,428.50 643.50,435.50"/>
<polygon points="653.50,427.50 660.50,427.50 657.00,434.50"/>
<polygon points="635.50,426.50 642.50,426.50 639.00,433.50"/>
<polygon points="658.00,425.50 665.00,425.50 661.50,432.50"/>
<polygon points="631.00,424.50 638.00,424.50 634.50,431.50"/>
<polygon points="644.70,433.50 651.70,433.50 648.20,440.50"/>
</g>
<line x1="577.50" y1="434.90" x2="577.50" y2="418.00" stroke="#000" stroke-width="2.4"/>
<line x1="566.00" y1="434.90" x2="589.00" y2="434.90" stroke="#000" stroke-width="2.3"/>
<line x1="566.00" y1="418.00" x2="589.00" y2="418.00" stroke="#000" stroke-width="2.3"/>
<line x1="648.50" y1="434.30" x2="648.50" y2="393.10" stroke="#000" stroke-width="2.4"/>
<line x1="637.00" y1="434.30" x2="660.00" y2="434.30" stroke="#000" stroke-width="2.3"/>
<line x1="637.00" y1="393.10" x2="660.00" y2="393.10" stroke="#000" stroke-width="2.3"/>
<line x1="542.00" y1="275.90" x2="542.00" y2="464.90" stroke="#000" stroke-width="1.9"/>
<line x1="537.00" y1="463.90" x2="686.00" y2="463.90" stroke="#000" stroke-width="1.7"/>
<line x1="537.00" y1="463.90" x2="542.00" y2="463.90" stroke="#000" stroke-width="1.5"/>
<text x="534.90" y="468.30" text-anchor="end" font-size="11.5" fill="#111">0</text>
<line x1="537.00" y1="426.30" x2="542.00" y2="426.30" stroke="#000" stroke-width="1.5"/>
<text x="534.90" y="430.70" text-anchor="end" font-size="11.5" fill="#111">100</text>
<line x1="537.00" y1="388.70" x2="542.00" y2="388.70" stroke="#000" stroke-width="1.5"/>
<text x="534.90" y="393.10" text-anchor="end" font-size="11.5" fill="#111">200</text>
<line x1="537.00" y1="351.10" x2="542.00" y2="351.10" stroke="#000" stroke-width="1.5"/>
<text x="534.90" y="355.50" text-anchor="end" font-size="11.5" fill="#111">300</text>
<line x1="537.00" y1="313.50" x2="542.00" y2="313.50" stroke="#000" stroke-width="1.5"/>
<text x="534.90" y="317.90" text-anchor="end" font-size="11.5" fill="#111">400</text>
<line x1="537.00" y1="275.90" x2="542.00" y2="275.90" stroke="#000" stroke-width="1.5"/>
<text x="534.90" y="280.30" text-anchor="end" font-size="11.5" fill="#111">500</text>
<line x1="577.50" y1="463.90" x2="577.50" y2="468.40" stroke="#000" stroke-width="1.5"/>
<line x1="648.50" y1="463.90" x2="648.50" y2="468.40" stroke="#000" stroke-width="1.5"/>
<text x="577.50" y="481.70" text-anchor="middle" font-size="13" fill="#111">CON</text>
<text x="648.50" y="481.70" text-anchor="middle" font-size="13" fill="#111">SCZ</text>
<text transform="translate(499.30,373.00) rotate(-90)" text-anchor="middle" font-size="13" fill="#111">Protein level (% of CON)</text>
<text x="604.70" y="269.20" text-anchor="middle" font-size="12.2" font-weight="bold" font-style="normal">SOCS3</text>
<text x="488.30" y="270.60" font-size="20" font-weight="bold">E</text>
<polyline points="572.90,351.40 572.90,319.20 648.00,319.20 648.00,324.50" fill="none" stroke="#000" stroke-width="1.8"/>
<text x="579.80" y="290.40" font-size="11.2" text-anchor="start" font-style="italic" fill="#111">P</text>
<text x="628.10" y="290.40" font-size="11.2" text-anchor="end" fill="#111">=5.6e-4</text>
<text x="564.90" y="308.50" font-size="11.2" text-anchor="start" font-style="italic" fill="#111">P</text>
<text x="571.40" y="310.70" font-size="10.4" text-anchor="start" font-style="italic" fill="#111">covariate</text>
<text x="652.20" y="308.50" font-size="11.3" text-anchor="end" fill="#111">=0.045</text>
<rect x="66.60" y="660.00" width="48" height="62.50" fill="#fff" stroke="#606060" stroke-width="1.2"/>
<rect x="137.60" y="674.60" width="48" height="47.90" fill="#fff" stroke="#606060" stroke-width="1.2"/>
<g fill="#008000" stroke="#008000" stroke-width="0.9" stroke-linejoin="round">
<polygon points="80.30,625.90 83.80,632.90 76.80,632.90"/>
<polygon points="90.00,623.30 93.50,630.30 86.50,630.30"/>
<polygon points="100.20,625.90 103.70,632.90 96.70,632.90"/>
<polygon points="90.00,633.50 93.50,640.50 86.50,640.50"/>
<polygon points="80.10,643.00 83.60,650.00 76.60,650.00"/>
<polygon points="100.20,640.60 103.70,647.60 96.70,647.60"/>
<polygon points="90.00,644.80 93.50,651.80 86.50,651.80"/>
<polygon points="71.10,645.80 74.60,652.80 67.60,652.80"/>
<polygon points="109.10,646.70 112.60,653.70 105.60,653.70"/>
<polygon points="75.10,650.00 78.60,657.00 71.60,657.00"/>
<polygon points="80.50,651.50 84.00,658.50 77.00,658.50"/>
<polygon points="85.50,652.50 89.00,659.50 82.00,659.50"/>
<polygon points="94.50,652.50 98.00,659.50 91.00,659.50"/>
<polygon points="99.70,651.50 103.20,658.50 96.20,658.50"/>
<polygon points="104.50,650.00 108.00,657.00 101.00,657.00"/>
<polygon points="91.95,658.50 95.45,665.50 88.45,665.50"/>
<polygon points="87.65,657.94 91.15,664.94 84.15,664.94"/>
<polygon points="96.25,657.39 99.75,664.39 92.75,664.39"/>
<polygon points="83.35,656.83 86.85,663.83 79.85,663.83"/>
<polygon points="100.55,656.28 104.05,663.28 97.05,663.28"/>
<polygon points="79.05,655.72 82.55,662.72 75.55,662.72"/>
<polygon points="104.85,655.17 108.35,662.17 101.35,662.17"/>
<polygon points="74.75,654.61 78.25,661.61 71.25,661.61"/>
<polygon points="109.15,654.06 112.65,661.06 105.65,661.06"/>
<polygon points="70.45,653.50 73.95,660.50 66.95,660.50"/>
<polygon points="91.95,662.50 95.45,669.50 88.45,669.50"/>
<polygon points="87.65,661.89 91.15,668.89 84.15,668.89"/>
<polygon points="96.25,661.28 99.75,668.28 92.75,668.28"/>
<polygon points="83.35,660.67 86.85,667.67 79.85,667.67"/>
<polygon points="100.55,660.06 104.05,667.06 97.05,667.06"/>
<polygon points="79.05,659.44 82.55,666.44 75.55,666.44"/>
<polygon points="104.85,658.83 108.35,665.83 101.35,665.83"/>
<polygon points="74.75,658.22 78.25,665.22 71.25,665.22"/>
<polygon points="109.15,657.61 112.65,664.61 105.65,664.61"/>
<polygon points="70.45,657.00 73.95,664.00 66.95,664.00"/>
<polygon points="92.00,664.00 95.50,671.00 88.50,671.00"/>
<polygon points="87.60,663.36 91.10,670.36 84.10,670.36"/>
<polygon points="96.40,662.71 99.90,669.71 92.90,669.71"/>
<polygon points="83.20,662.07 86.70,669.07 79.70,669.07"/>
<polygon points="100.80,661.43 104.30,668.43 97.30,668.43"/>
<polygon points="78.80,660.79 82.30,667.79 75.30,667.79"/>
<polygon points="105.20,660.14 108.70,667.14 101.70,667.14"/>
<polygon points="74.40,659.50 77.90,666.50 70.90,666.50"/>
<polygon points="71.10,668.90 74.60,675.90 67.60,675.90"/>
<polygon points="109.10,669.90 112.60,676.90 105.60,676.90"/>
<polygon points="80.80,675.10 84.30,682.10 77.30,682.10"/>
<polygon points="90.00,677.50 93.50,684.50 86.50,684.50"/>
<polygon points="99.70,675.50 103.20,682.50 96.20,682.50"/>
<polygon points="157.70,578.30 164.70,578.30 161.20,585.30"/>
<polygon points="157.70,615.20 164.70,615.20 161.20,622.20"/>
<polygon points="152.50,618.50 159.50,618.50 156.00,625.50"/>
<polygon points="167.60,626.80 174.60,626.80 171.10,633.80"/>
<polygon points="172.80,630.90 179.80,630.90 176.30,637.90"/>
<polygon points="162.90,633.50 169.90,633.50 166.40,640.50"/>
<polygon points="142.60,632.00 149.60,632.00 146.10,639.00"/>
<polygon points="152.50,639.50 159.50,639.50 156.00,646.50"/>
<polygon points="157.70,654.60 164.70,654.60 161.20,661.60"/>
<polygon points="137.60,660.70 144.60,660.70 141.10,667.70"/>
<polygon points="177.50,658.80 184.50,658.80 181.00,665.80"/>
<polygon points="147.80,666.40 154.80,666.40 151.30,673.40"/>
<polygon points="167.60,664.50 174.60,664.50 171.10,671.50"/>
<polygon points="159.80,676.50 166.80,676.50 163.30,683.50"/>
<polygon points="155.00,675.86 162.00,675.86 158.50,682.86"/>
<polygon points="164.60,675.21 171.60,675.21 168.10,682.21"/>
<polygon points="150.20,674.57 157.20,674.57 153.70,681.57"/>
<polygon points="169.40,673.93 176.40,673.93 172.90,680.93"/>
<polygon points="145.40,673.29 152.40,673.29 148.90,680.29"/>
<polygon points="174.20,672.64 181.20,672.64 177.70,679.64"/>
<polygon points="140.60,672.00 147.60,672.00 144.10,679.00"/>
<polygon points="159.65,682.50 166.65,682.50 163.15,689.50"/>
<polygon points="155.15,681.50 162.15,681.50 158.65,688.50"/>
<polygon points="164.15,680.50 171.15,680.50 167.65,687.50"/>
<polygon points="150.65,679.50 157.65,679.50 154.15,686.50"/>
<polygon points="168.65,678.50 175.65,678.50 172.15,685.50"/>
<polygon points="146.15,677.50 153.15,677.50 149.65,684.50"/>
<polygon points="173.15,676.50 180.15,676.50 176.65,683.50"/>
<polygon points="141.65,675.50 148.65,675.50 145.15,682.50"/>
<polygon points="159.70,688.50 166.70,688.50 163.20,695.50"/>
<polygon points="155.10,687.61 162.10,687.61 158.60,694.61"/>
<polygon points="164.30,686.72 171.30,686.72 167.80,693.72"/>
<polygon points="150.50,685.83 157.50,685.83 154.00,692.83"/>
<polygon points="168.90,684.94 175.90,684.94 172.40,691.94"/>
<polygon points="145.90,684.06 152.90,684.06 149.40,691.06"/>
<polygon points="173.50,683.17 180.50,683.17 177.00,690.17"/>
<polygon points="141.30,682.28 148.30,682.28 144.80,689.28"/>
<polygon points="178.10,681.39 185.10,681.39 181.60,688.39"/>
<polygon points="136.70,680.50 143.70,680.50 140.20,687.50"/>
<polygon points="159.65,690.50 166.65,690.50 163.15,697.50"/>
<polygon points="155.15,689.30 162.15,689.30 158.65,696.30"/>
<polygon points="164.15,688.10 171.15,688.10 167.65,695.10"/>
<polygon points="150.65,686.90 157.65,686.90 154.15,693.90"/>
<polygon points="168.65,685.70 175.65,685.70 172.15,692.70"/>
<polygon points="146.15,684.50 153.15,684.50 149.65,691.50"/>
<polygon points="138.80,693.20 145.80,693.20 142.30,700.20"/>
<polygon points="148.00,695.80 155.00,695.80 151.50,702.80"/>
<polygon points="167.20,693.70 174.20,693.70 170.70,700.70"/>
<polygon points="176.40,693.20 183.40,693.20 179.90,700.20"/>
<polygon points="157.60,702.40 164.60,702.40 161.10,709.40"/>
<polygon points="157.60,713.40 164.60,713.40 161.10,720.40"/>
<polygon points="157.20,690.10 164.20,690.10 160.70,697.10"/>
</g>
<line x1="90.60" y1="672.90" x2="90.60" y2="647.50" stroke="#000" stroke-width="2.4"/>
<line x1="79.10" y1="672.90" x2="102.10" y2="672.90" stroke="#000" stroke-width="2.3"/>
<line x1="79.10" y1="647.50" x2="102.10" y2="647.50" stroke="#000" stroke-width="2.3"/>
<line x1="161.60" y1="702.00" x2="161.60" y2="648.20" stroke="#000" stroke-width="2.4"/>
<line x1="150.10" y1="702.00" x2="173.10" y2="702.00" stroke="#000" stroke-width="2.3"/>
<line x1="150.10" y1="648.20" x2="173.10" y2="648.20" stroke="#000" stroke-width="2.3"/>
<line x1="55.10" y1="534.40" x2="55.10" y2="723.50" stroke="#000" stroke-width="1.9"/>
<line x1="50.10" y1="722.50" x2="196.00" y2="722.50" stroke="#000" stroke-width="1.7"/>
<line x1="50.10" y1="722.50" x2="55.10" y2="722.50" stroke="#000" stroke-width="1.5"/>
<text x="48.00" y="726.90" text-anchor="end" font-size="11.5" fill="#111">0</text>
<line x1="50.10" y1="659.80" x2="55.10" y2="659.80" stroke="#000" stroke-width="1.5"/>
<text x="48.00" y="664.20" text-anchor="end" font-size="11.5" fill="#111">100</text>
<line x1="50.10" y1="597.10" x2="55.10" y2="597.10" stroke="#000" stroke-width="1.5"/>
<text x="48.00" y="601.50" text-anchor="end" font-size="11.5" fill="#111">200</text>
<line x1="50.10" y1="534.40" x2="55.10" y2="534.40" stroke="#000" stroke-width="1.5"/>
<text x="48.00" y="538.80" text-anchor="end" font-size="11.5" fill="#111">300</text>
<line x1="90.60" y1="722.50" x2="90.60" y2="727.00" stroke="#000" stroke-width="1.5"/>
<line x1="161.60" y1="722.50" x2="161.60" y2="727.00" stroke="#000" stroke-width="1.5"/>
<text x="90.60" y="740.30" text-anchor="middle" font-size="13" fill="#111">CON</text>
<text x="161.60" y="740.30" text-anchor="middle" font-size="13" fill="#111">SCZ</text>
<text transform="translate(11.90,626.20) rotate(-90)" text-anchor="middle" font-size="13" fill="#111">RNA level (% of CON)</text>
<text x="124.40" y="527.30" text-anchor="middle" font-size="12.2" font-weight="bold" font-style="italic">CIC</text>
<text x="1.30" y="520.60" font-size="20" font-weight="bold">F</text>
<polyline points="86.80,602.70 86.80,570.60 159.20,570.60 159.20,573.20" fill="none" stroke="#000" stroke-width="1.8"/>
<text x="95.10" y="544.90" font-size="11.2" text-anchor="start" font-style="italic" fill="#111">P</text>
<text x="142.60" y="544.90" font-size="11.2" text-anchor="end" fill="#111">=1.6e-3</text>
<text x="71.00" y="562.50" font-size="11.2" text-anchor="start" font-style="italic" fill="#111">P</text>
<text x="78.10" y="563.20" font-size="10.4" text-anchor="start" font-style="italic" fill="#111">covariate</text>
<text x="157.90" y="562.50" font-size="11.3" text-anchor="end" fill="#111">=0.035</text>
<rect x="313.50" y="675.90" width="48" height="46.90" fill="#fff" stroke="#606060" stroke-width="1.2"/>
<rect x="384.50" y="698.20" width="48" height="24.60" fill="#fff" stroke="#606060" stroke-width="1.2"/>
<g fill="#000000" stroke="#000000" stroke-width="0.9" stroke-linejoin="round">
<polygon points="332.00,588.70 335.50,595.70 328.50,595.70"/>
<polygon points="342.30,588.70 345.80,595.70 338.80,595.70"/>
<polygon points="332.20,624.80 335.70,631.80 328.70,631.80"/>
<polygon points="342.30,631.20 345.80,638.20 338.80,638.20"/>
<polygon points="337.30,645.70 340.80,652.70 333.80,652.70"/>
<polygon points="322.10,649.50 325.60,656.50 318.60,656.50"/>
<polygon points="352.20,651.40 355.70,658.40 348.70,658.40"/>
<polygon points="332.20,654.70 335.70,661.70 328.70,661.70"/>
<polygon points="342.30,656.60 345.80,663.60 338.80,663.60"/>
<polygon points="318.30,659.40 321.80,666.40 314.80,666.40"/>
<polygon points="356.20,661.60 359.70,668.60 352.70,668.60"/>
<polygon points="327.80,664.80 331.30,671.80 324.30,671.80"/>
<polygon points="337.30,667.70 340.80,674.70 333.80,674.70"/>
<polygon points="346.80,667.20 350.30,674.20 343.30,674.20"/>
<polygon points="355.80,668.60 359.30,675.60 352.30,675.60"/>
<polygon points="319.00,670.50 322.50,677.50 315.50,677.50"/>
<polygon points="324.90,674.30 328.40,681.30 321.40,681.30"/>
<polygon points="331.10,675.30 334.60,682.30 327.60,682.30"/>
<polygon points="345.80,672.90 349.30,679.90 342.30,679.90"/>
<polygon points="348.70,674.30 352.20,681.30 345.20,681.30"/>
<polygon points="343.00,675.70 346.50,682.70 339.50,682.70"/>
<polygon points="337.30,677.60 340.80,684.60 333.80,684.60"/>
<polygon points="317.30,687.10 320.80,694.10 313.80,694.10"/>
<polygon points="322.10,694.20 325.60,701.20 318.60,701.20"/>
<polygon points="327.30,693.80 330.80,700.80 323.80,700.80"/>
<polygon points="342.30,689.00 345.80,696.00 338.80,696.00"/>
<polygon points="352.20,686.00 355.70,693.00 348.70,693.00"/>
<polygon points="352.20,696.60 355.70,703.60 348.70,703.60"/>
<polygon points="332.50,700.90 336.00,707.90 329.00,707.90"/>
<polygon points="342.50,702.30 346.00,709.30 339.00,709.30"/>
<polygon points="317.80,707.50 321.30,714.50 314.30,714.50"/>
<polygon points="325.90,710.40 329.40,717.40 322.40,717.40"/>
<polygon points="333.50,714.20 337.00,721.20 330.00,721.20"/>
<polygon points="341.10,710.40 344.60,717.40 337.60,717.40"/>
<polygon points="348.70,708.00 352.20,715.00 345.20,715.00"/>
<polygon points="356.70,707.00 360.20,714.00 353.20,714.00"/>
<polygon points="404.70,655.60 411.70,655.60 408.20,662.60"/>
<polygon points="389.70,670.30 396.70,670.30 393.20,677.30"/>
<polygon points="404.70,669.00 411.70,669.00 408.20,676.00"/>
<polygon points="399.30,673.30 406.30,673.30 402.80,680.30"/>
<polygon points="419.50,672.80 426.50,672.80 423.00,679.80"/>
<polygon points="409.40,678.90 416.40,678.90 412.90,685.90"/>
<polygon points="405.00,688.50 412.00,688.50 408.50,695.50"/>
<polygon points="409.60,687.75 416.60,687.75 413.10,694.75"/>
<polygon points="400.40,687.00 407.40,687.00 403.90,694.00"/>
<polygon points="414.20,686.25 421.20,686.25 417.70,693.25"/>
<polygon points="395.80,685.50 402.80,685.50 399.30,692.50"/>
<polygon points="418.80,684.75 425.80,684.75 422.30,691.75"/>
<polygon points="391.20,684.00 398.20,684.00 394.70,691.00"/>
<polygon points="423.40,683.25 430.40,683.25 426.90,690.25"/>
<polygon points="386.60,682.50 393.60,682.50 390.10,689.50"/>
<polygon points="405.00,699.50 412.00,699.50 408.50,706.50"/>
<polygon points="409.50,698.62 416.50,698.62 413.00,705.62"/>
<polygon points="400.50,697.75 407.50,697.75 404.00,704.75"/>
<polygon points="414.00,696.88 421.00,696.88 417.50,703.88"/>
<polygon points="396.00,696.00 403.00,696.00 399.50,703.00"/>
<polygon points="418.50,695.12 425.50,695.12 422.00,702.12"/>
<polygon points="391.50,694.25 398.50,694.25 395.00,701.25"/>
<polygon points="423.00,693.38 430.00,693.38 426.50,700.38"/>
<polygon points="387.00,692.50 394.00,692.50 390.50,699.50"/>
<polygon points="405.00,705.50 412.00,705.50 408.50,712.50"/>
<polygon points="409.50,704.50 416.50,704.50 413.00,711.50"/>
<polygon points="400.50,703.50 407.50,703.50 404.00,710.50"/>
<polygon points="414.00,702.50 421.00,702.50 417.50,709.50"/>
<polygon points="396.00,701.50 403.00,701.50 399.50,708.50"/>
<polygon points="418.50,700.50 425.50,700.50 422.00,707.50"/>
<polygon points="391.50,699.50 398.50,699.50 395.00,706.50"/>
<polygon points="407.10,715.00 414.10,715.00 410.60,722.00"/>
<polygon points="402.90,713.93 409.90,713.93 406.40,720.93"/>
<polygon points="411.30,712.86 418.30,712.86 414.80,719.86"/>
<polygon points="398.70,711.79 405.70,711.79 402.20,718.79"/>
<polygon points="415.50,710.71 422.50,710.71 419.00,717.71"/>
<polygon points="394.50,709.64 401.50,709.64 398.00,716.64"/>
<polygon points="419.70,708.57 426.70,708.57 423.20,715.57"/>
<polygon points="390.30,707.50 397.30,707.50 393.80,714.50"/>
</g>
<line x1="337.50" y1="706.80" x2="337.50" y2="644.40" stroke="#000" stroke-width="2.4"/>
<line x1="326.00" y1="706.80" x2="349.00" y2="706.80" stroke="#000" stroke-width="2.3"/>
<line x1="326.00" y1="644.40" x2="349.00" y2="644.40" stroke="#000" stroke-width="2.3"/>
<line x1="408.50" y1="714.30" x2="408.50" y2="683.40" stroke="#000" stroke-width="2.4"/>
<line x1="397.00" y1="714.30" x2="420.00" y2="714.30" stroke="#000" stroke-width="2.3"/>
<line x1="397.00" y1="683.40" x2="420.00" y2="683.40" stroke="#000" stroke-width="2.3"/>
<line x1="302.00" y1="534.60" x2="302.00" y2="723.80" stroke="#000" stroke-width="1.9"/>
<line x1="297.00" y1="722.80" x2="444.70" y2="722.80" stroke="#000" stroke-width="1.7"/>
<line x1="297.00" y1="722.80" x2="302.00" y2="722.80" stroke="#000" stroke-width="1.5"/>
<text x="294.90" y="727.20" text-anchor="end" font-size="11.5" fill="#111">0</text>
<line x1="297.00" y1="675.75" x2="302.00" y2="675.75" stroke="#000" stroke-width="1.5"/>
<text x="294.90" y="680.15" text-anchor="end" font-size="11.5" fill="#111">100</text>
<line x1="297.00" y1="628.70" x2="302.00" y2="628.70" stroke="#000" stroke-width="1.5"/>
<text x="294.90" y="633.10" text-anchor="end" font-size="11.5" fill="#111">200</text>
<line x1="297.00" y1="581.65" x2="302.00" y2="581.65" stroke="#000" stroke-width="1.5"/>
<text x="294.90" y="586.05" text-anchor="end" font-size="11.5" fill="#111">300</text>
<line x1="297.00" y1="534.60" x2="302.00" y2="534.60" stroke="#000" stroke-width="1.5"/>
<text x="294.90" y="539.00" text-anchor="end" font-size="11.5" fill="#111">400</text>
<line x1="337.50" y1="722.80" x2="337.50" y2="727.30" stroke="#000" stroke-width="1.5"/>
<line x1="408.50" y1="722.80" x2="408.50" y2="727.30" stroke="#000" stroke-width="1.5"/>
<text x="337.50" y="740.60" text-anchor="middle" font-size="13" fill="#111">CON</text>
<text x="408.50" y="740.60" text-anchor="middle" font-size="13" fill="#111">SCZ</text>
<text transform="translate(260.10,628.90) rotate(-90)" text-anchor="middle" font-size="13" fill="#111">Demethylation level (% of CON)</text>
<text x="367.30" y="526.90" text-anchor="middle" font-size="12.2" font-weight="bold" font-style="italic">CIC-R1</text>
<text x="247.30" y="520.60" font-size="20" font-weight="bold">G</text>
<polyline points="336.40,578.10 336.40,571.50 409.70,571.50 409.70,619.80" fill="none" stroke="#000" stroke-width="1.8"/>
<text x="344.30" y="544.90" font-size="11.2" text-anchor="start" font-style="italic" fill="#111">P</text>
<text x="392.60" y="544.90" font-size="11.2" text-anchor="end" fill="#111">=2.5e-4</text>
<text x="322.40" y="561.70" font-size="11.2" text-anchor="start" font-style="italic" fill="#111">P</text>
<text x="331.90" y="563.90" font-size="10.4" text-anchor="start" font-style="italic" fill="#111">covariate</text>
<text x="410.10" y="561.70" font-size="11.3" text-anchor="end" fill="#111">=0.045</text>
<rect x="553.50" y="669.10" width="48" height="53.50" fill="#fff" stroke="#606060" stroke-width="1.2"/>
<rect x="624.50" y="692.60" width="48" height="30.00" fill="#fff" stroke="#606060" stroke-width="1.2"/>
<g fill="#000000" stroke="#000000" stroke-width="0.9" stroke-linejoin="round">
<polygon points="567.40,614.20 570.90,621.20 563.90,621.20"/>
<polygon points="577.30,619.00 580.80,626.00 573.80,626.00"/>
<polygon points="587.40,616.40 590.90,623.40 583.90,623.40"/>
<polygon points="562.50,638.30 566.00,645.30 559.00,645.30"/>
<polygon points="587.40,636.10 590.90,643.10 583.90,643.10"/>
<polygon points="567.40,643.50 570.90,650.50 563.90,650.50"/>
<polygon points="577.30,641.40 580.80,648.40 573.80,648.40"/>
<polygon points="587.40,647.50 590.90,654.50 583.90,654.50"/>
<polygon points="577.30,651.80 580.80,658.80 573.80,658.80"/>
<polygon points="587.40,648.70 590.90,655.70 583.90,655.70"/>
<polygon points="558.50,659.60 562.00,666.60 555.00,666.60"/>
<polygon points="563.30,660.50 566.80,667.50 559.80,667.50"/>
<polygon points="568.10,661.80 571.60,668.80 564.60,668.80"/>
<polygon points="573.00,664.50 576.50,671.50 569.50,671.50"/>
<polygon points="577.50,665.00 581.00,672.00 574.00,672.00"/>
<polygon points="582.20,664.00 585.70,671.00 578.70,671.00"/>
<polygon points="587.00,661.00 590.50,668.00 583.50,668.00"/>
<polygon points="591.80,660.10 595.30,667.10 588.30,667.10"/>
<polygon points="596.60,657.00 600.10,664.00 593.10,664.00"/>
<polygon points="558.10,671.90 561.60,678.90 554.60,678.90"/>
<polygon points="566.00,673.70 569.50,680.70 562.50,680.70"/>
<polygon points="573.40,676.70 576.90,683.70 569.90,683.70"/>
<polygon points="581.30,675.00 584.80,682.00 577.80,682.00"/>
<polygon points="589.20,673.20 592.70,680.20 585.70,680.20"/>
<polygon points="597.00,669.70 600.50,676.70 593.50,676.70"/>
<polygon points="559.00,682.00 562.50,689.00 555.50,689.00"/>
<polygon points="589.60,682.40 593.10,689.40 586.10,689.40"/>
<polygon points="595.70,681.10 599.20,688.10 592.20,688.10"/>
<polygon points="565.10,689.40 568.60,696.40 561.60,696.40"/>
<polygon points="571.20,689.40 574.70,696.40 567.70,696.40"/>
<polygon points="576.50,690.50 580.00,697.50 573.00,697.50"/>
<polygon points="583.50,689.00 587.00,696.00 580.00,696.00"/>
<polygon points="587.00,690.00 590.50,697.00 583.50,697.00"/>
<polygon points="562.50,696.40 566.00,703.40 559.00,703.40"/>
<polygon points="572.50,701.20 576.00,708.20 569.00,708.20"/>
<polygon points="582.60,698.60 586.10,705.60 579.10,705.60"/>
<polygon points="592.70,696.40 596.20,703.40 589.20,703.40"/>
<polygon points="644.70,645.50 651.70,645.50 648.20,652.50"/>
<polygon points="644.70,664.70 651.70,664.70 648.20,671.70"/>
<polygon points="625.40,668.50 632.40,668.50 628.90,675.50"/>
<polygon points="664.60,669.50 671.60,669.50 668.10,676.50"/>
<polygon points="633.40,670.40 640.40,670.40 636.90,677.40"/>
<polygon points="656.10,670.90 663.10,670.90 659.60,677.90"/>
<polygon points="640.50,670.90 647.50,670.90 644.00,677.90"/>
<polygon points="648.50,675.10 655.50,675.10 652.00,682.10"/>
<polygon points="638.00,677.50 645.00,677.50 641.50,684.50"/>
<polygon points="630.10,680.80 637.10,680.80 633.60,687.80"/>
<polygon points="658.90,679.40 665.90,679.40 662.40,686.40"/>
<polygon points="636.20,684.10 643.20,684.10 639.70,691.10"/>
<polygon points="652.30,681.70 659.30,681.70 655.80,688.70"/>
<polygon points="642.80,685.50 649.80,685.50 646.30,692.50"/>
<polygon points="647.50,683.50 654.50,683.50 651.00,690.50"/>
<polygon points="645.00,696.00 652.00,696.00 648.50,703.00"/>
<polygon points="649.70,695.25 656.70,695.25 653.20,702.25"/>
<polygon points="640.30,694.50 647.30,694.50 643.80,701.50"/>
<polygon points="654.40,693.75 661.40,693.75 657.90,700.75"/>
<polygon points="635.60,693.00 642.60,693.00 639.10,700.00"/>
<polygon points="659.10,692.25 666.10,692.25 662.60,699.25"/>
<polygon points="630.90,691.50 637.90,691.50 634.40,698.50"/>
<polygon points="663.80,690.75 670.80,690.75 667.30,697.75"/>
<polygon points="626.20,690.00 633.20,690.00 629.70,697.00"/>
<polygon points="647.20,705.50 654.20,705.50 650.70,712.50"/>
<polygon points="642.80,705.06 649.80,705.06 646.30,712.06"/>
<polygon points="651.60,704.61 658.60,704.61 655.10,711.61"/>
<polygon points="638.40,704.17 645.40,704.17 641.90,711.17"/>
<polygon points="656.00,703.72 663.00,703.72 659.50,710.72"/>
<polygon points="634.00,703.28 641.00,703.28 637.50,710.28"/>
<polygon points="660.40,702.83 667.40,702.83 663.90,709.83"/>
<polygon points="629.60,702.39 636.60,702.39 633.10,709.39"/>
<polygon points="664.80,701.94 671.80,701.94 668.30,708.94"/>
<polygon points="625.20,701.50 632.20,701.50 628.70,708.50"/>
<polygon points="644.70,712.50 651.70,712.50 648.20,719.50"/>
<polygon points="640.00,708.50 647.00,708.50 643.50,715.50"/>
<polygon points="649.50,708.50 656.50,708.50 653.00,715.50"/>
</g>
<line x1="577.50" y1="693.40" x2="577.50" y2="645.70" stroke="#000" stroke-width="2.4"/>
<line x1="566.00" y1="693.40" x2="589.00" y2="693.40" stroke="#000" stroke-width="2.3"/>
<line x1="566.00" y1="645.70" x2="589.00" y2="645.70" stroke="#000" stroke-width="2.3"/>
<line x1="648.50" y1="705.00" x2="648.50" y2="678.70" stroke="#000" stroke-width="2.4"/>
<line x1="637.00" y1="705.00" x2="660.00" y2="705.00" stroke="#000" stroke-width="2.3"/>
<line x1="637.00" y1="678.70" x2="660.00" y2="678.70" stroke="#000" stroke-width="2.3"/>
<line x1="542.00" y1="534.30" x2="542.00" y2="723.60" stroke="#000" stroke-width="1.9"/>
<line x1="537.00" y1="722.60" x2="686.00" y2="722.60" stroke="#000" stroke-width="1.7"/>
<line x1="537.00" y1="722.60" x2="542.00" y2="722.60" stroke="#000" stroke-width="1.5"/>
<text x="534.90" y="727.00" text-anchor="end" font-size="11.5" fill="#111">0</text>
<line x1="537.00" y1="668.80" x2="542.00" y2="668.80" stroke="#000" stroke-width="1.5"/>
<text x="534.90" y="673.20" text-anchor="end" font-size="11.5" fill="#111">100</text>
<line x1="537.00" y1="615.00" x2="542.00" y2="615.00" stroke="#000" stroke-width="1.5"/>
<text x="534.90" y="619.40" text-anchor="end" font-size="11.5" fill="#111">200</text>
<line x1="537.00" y1="561.20" x2="542.00" y2="561.20" stroke="#000" stroke-width="1.5"/>
<text x="534.90" y="565.60" text-anchor="end" font-size="11.5" fill="#111">300</text>
<line x1="577.50" y1="722.60" x2="577.50" y2="727.10" stroke="#000" stroke-width="1.5"/>
<line x1="648.50" y1="722.60" x2="648.50" y2="727.10" stroke="#000" stroke-width="1.5"/>
<text x="577.50" y="740.40" text-anchor="middle" font-size="13" fill="#111">CON</text>
<text x="648.50" y="740.40" text-anchor="middle" font-size="13" fill="#111">SCZ</text>
<text transform="translate(502.30,632.40) rotate(-90)" text-anchor="middle" font-size="13" fill="#111">Demethylation level (% of CON)</text>
<text x="608.70" y="526.90" text-anchor="middle" font-size="12.2" font-weight="bold" font-style="italic">CIC-R2</text>
<text x="488.30" y="520.60" font-size="20" font-weight="bold">H</text>
<polyline points="574.90,599.10 574.90,587.20 648.80,587.20 648.80,635.80" fill="none" stroke="#000" stroke-width="1.8"/>
<text x="584.30" y="557.40" font-size="11.2" text-anchor="start" font-style="italic" fill="#111">P</text>
<text x="632.60" y="557.40" font-size="11.2" text-anchor="end" fill="#111">=2.1e-6</text>
<text x="563.50" y="574.50" font-size="11.2" text-anchor="start" font-style="italic" fill="#111">P</text>
<text x="572.90" y="577.40" font-size="9.4" text-anchor="start" font-style="italic" fill="#111">covariate</text>
<text x="650.10" y="574.50" font-size="11.3" text-anchor="end" fill="#111">=0.007</text>
</svg></body></html>
